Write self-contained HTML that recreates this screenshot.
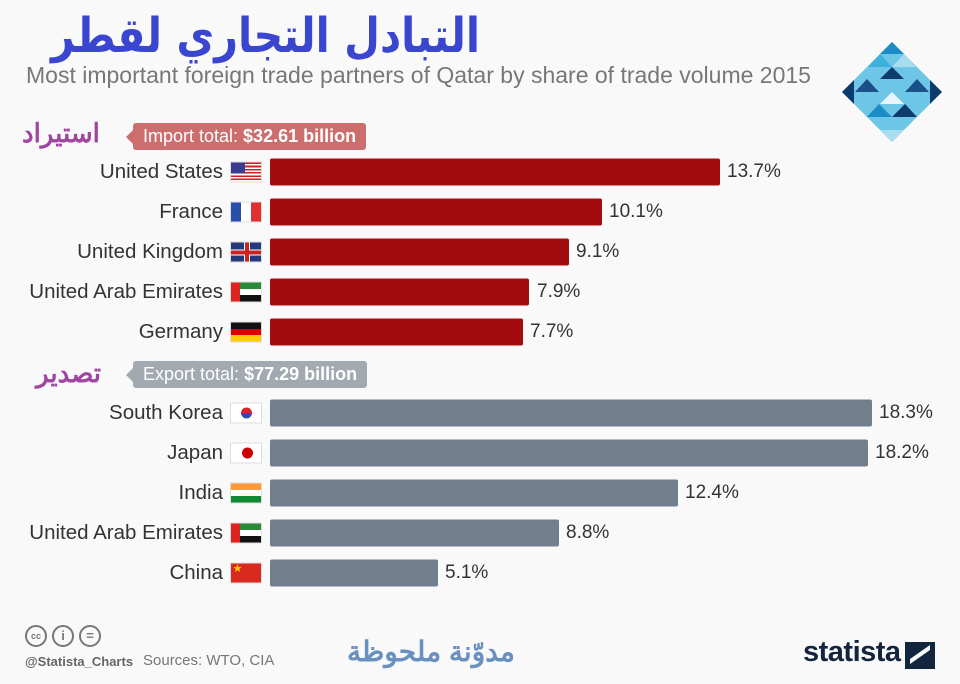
<!DOCTYPE html>
<html><head><meta charset="utf-8"><style>
body{margin:0;width:960px;height:684px;background:#f9f9fa;position:relative;overflow:hidden;font-family:"Liberation Sans","Noto Sans CJK SC",sans-serif}
.a{position:absolute}
.lab{position:absolute;right:737px;font-size:20.5px;color:#333;text-align:right;white-space:nowrap;transform:translateY(-50%)}
.flag{position:absolute;left:230px;width:32px;height:21px;transform:translateY(-50%);border:1px solid #ddd;box-sizing:border-box;overflow:hidden}
.bar{position:absolute;left:270px;height:27px;transform:translateY(-50%);border-radius:2px}
.val{position:absolute;font-size:19px;color:#333;transform:translateY(-50%)}
.pill{position:absolute;height:27px;line-height:27px;color:#fff;font-size:18px;padding:0 10px;border-radius:3px;white-space:nowrap}
.pill:before{content:"";position:absolute;left:-7px;top:7px;border-right:7px solid;border-top:7px solid transparent;border-bottom:7px solid transparent;border-right-color:inherit}
</style></head><body>
<div class="a" style="left:0px;top:8px;font-size:48px;font-weight:bold;color:#3a45d0;font-family:'DejaVu Sans',sans-serif;direction:rtl;width:480px;text-align:right;white-space:nowrap;letter-spacing:-1px;transform:scaleX(0.86);transform-origin:right top">التبادل التجاري لقطر</div>
<div class="a" style="left:26px;top:62px;font-size:23px;color:#777;white-space:nowrap">Most important foreign trade partners of Qatar by share of trade volume 2015</div>
<svg class="a" style="left:842px;top:42px" width="100" height="100" viewBox="0 0 100 100">
<polygon points="50,0 100,50 50,100 0,50" fill="#6ec6e6"/>
<polygon points="50,0 62,12 38,12" fill="#1b8cc4"/><polygon points="38,12 50,25 26,25" fill="#3db1dc"/><polygon points="62,12 74,25 50,25" fill="#a8dcef"/>
<polygon points="0,50 12,38 12,62" fill="#0d3b6e"/><polygon points="100,50 88,38 88,62" fill="#0d3b6e"/>
<polygon points="25,37 37,50 13,50" fill="#1a4f8a"/><polygon points="75,37 87,50 63,50" fill="#1a4f8a"/>
<polygon points="50,50 62,62 38,62" fill="#e6f5fb"/><polygon points="37,62 50,75 25,75" fill="#1b8cc4"/><polygon points="63,62 75,75 50,75" fill="#0d3b6e"/>
<polygon points="50,100 38,88 62,88" fill="#a8dcef"/><polygon points="50,25 62,37 38,37" fill="#0d3b6e"/>
</svg>
<div class="a" style="left:22px;top:118px;font-size:26px;font-weight:bold;color:#a046a0;direction:rtl">استيراد</div>
<div class="pill" style="left:133px;top:123px;background:#cc6e6e;border-color:#cc6e6e">Import total: <b>$32.61 billion</b></div>
<div class="a" style="left:36px;top:358px;font-size:26px;font-weight:bold;color:#a046a0;direction:rtl">تصدير</div>
<div class="pill" style="left:133px;top:361px;background:#a3a9b1;border-color:#a3a9b1">Export total: <b>$77.29 billion</b></div>

<div class="lab" style="top:172px">United States</div>
<div class="flag" style="top:172px;background:repeating-linear-gradient(#c22 0 1.6px,#fff 1.6px 3.2px)"><div style="width:14px;height:11px;background:#3c3b8e"></div></div>
<div class="bar" style="top:172px;width:450px;background:#a20c0e"></div><div class="val" style="left:727px;top:172px">13.7%</div>

<div class="lab" style="top:212px">France</div>
<div class="flag" style="top:212px;background:linear-gradient(90deg,#2a4fa8 33%,#fff 33% 66%,#e03030 66%)"></div>
<div class="bar" style="top:212px;width:332px;background:#a20c0e"></div><div class="val" style="left:609px;top:212px">10.1%</div>

<div class="lab" style="top:252px">United Kingdom</div>
<div class="flag" style="top:252px;background:#243a7a"><div style="position:absolute;left:13px;top:0;width:6px;height:21px;background:#fff"></div><div style="position:absolute;left:0;top:7px;width:32px;height:6px;background:#fff"></div><div style="position:absolute;left:14px;top:0;width:4px;height:21px;background:#c22"></div><div style="position:absolute;left:0;top:8px;width:32px;height:4px;background:#c22"></div></div>
<div class="bar" style="top:252px;width:299px;background:#a20c0e"></div><div class="val" style="left:576px;top:252px">9.1%</div>

<div class="lab" style="top:292px">United Arab Emirates</div>
<div class="flag" style="top:292px;background:linear-gradient(90deg,#d22 9px,transparent 9px),linear-gradient(#2a8a3a 33%,#fff 33% 66%,#111 66%)"></div>
<div class="bar" style="top:292px;width:259px;background:#a20c0e"></div><div class="val" style="left:537px;top:292px">7.9%</div>

<div class="lab" style="top:332px">Germany</div>
<div class="flag" style="top:332px;background:linear-gradient(#111 33%,#d00 33% 66%,#fc0 66%)"></div>
<div class="bar" style="top:332px;width:253px;background:#a20c0e"></div><div class="val" style="left:530px;top:332px">7.7%</div>

<div class="lab" style="top:413px">South Korea</div>
<div class="flag" style="top:413px;background:#fff"><div style="position:absolute;left:10px;top:4px;width:11px;height:11px;border-radius:50%;background:linear-gradient(#d22 50%,#2a4fa8 50%)"></div></div>
<div class="bar" style="top:413px;width:602px;background:#717f8c"></div><div class="val" style="left:879px;top:413px">18.3%</div>

<div class="lab" style="top:453px">Japan</div>
<div class="flag" style="top:453px;background:#fff"><div style="position:absolute;left:11px;top:4px;width:11px;height:11px;border-radius:50%;background:#c00"></div></div>
<div class="bar" style="top:453px;width:598px;background:#717f8c"></div><div class="val" style="left:875px;top:453px">18.2%</div>

<div class="lab" style="top:493px">India</div>
<div class="flag" style="top:493px;background:linear-gradient(#f93 33%,#fff 33% 66%,#183 66%)"></div>
<div class="bar" style="top:493px;width:408px;background:#717f8c"></div><div class="val" style="left:685px;top:493px">12.4%</div>

<div class="lab" style="top:533px">United Arab Emirates</div>
<div class="flag" style="top:533px;background:linear-gradient(90deg,#d22 9px,transparent 9px),linear-gradient(#2a8a3a 33%,#fff 33% 66%,#111 66%)"></div>
<div class="bar" style="top:533px;width:289px;background:#717f8c"></div><div class="val" style="left:566px;top:533px">8.8%</div>

<div class="lab" style="top:573px">China</div>
<div class="flag" style="top:573px;background:#d82a1e;color:#fc0;font-size:9px;line-height:10px;padding-left:2px">★</div>
<div class="bar" style="top:573px;width:168px;background:#717f8c"></div><div class="val" style="left:445px;top:573px">5.1%</div>

<div class="a" style="left:25px;top:625px;display:flex;gap:5px">
<div style="width:22px;height:22px;border:2px solid #777;border-radius:50%;box-sizing:border-box;font-size:9px;font-weight:bold;color:#777;text-align:center;line-height:18px">cc</div>
<div style="width:22px;height:22px;border:2px solid #777;border-radius:50%;box-sizing:border-box;font-size:13px;font-weight:bold;color:#777;text-align:center;line-height:18px">i</div>
<div style="width:22px;height:22px;border:2px solid #777;border-radius:50%;box-sizing:border-box;font-size:13px;font-weight:bold;color:#777;text-align:center;line-height:17px">=</div>
</div>
<div class="a" style="left:25px;top:654px;font-size:13px;color:#666;font-weight:bold">@Statista_Charts</div>
<div class="a" style="left:143px;top:652px;font-size:15px;color:#777">Sources: WTO, CIA</div>
<div class="a" style="left:347px;top:635px;font-size:28px;font-weight:bold;color:#6a90c0;direction:rtl">مدوّنة ملحوظة</div>
<div class="a" style="left:803px;top:636px;font-size:29px;font-weight:bold;color:#13253e;letter-spacing:-0.5px">statista</div>
<div class="a" style="left:905px;top:642px;width:30px;height:27px;background:#13253e"><div style="position:absolute;left:5px;top:10px;width:20px;height:5px;background:#f9f9fa;transform:skewY(-35deg)"></div></div>
</body></html>
